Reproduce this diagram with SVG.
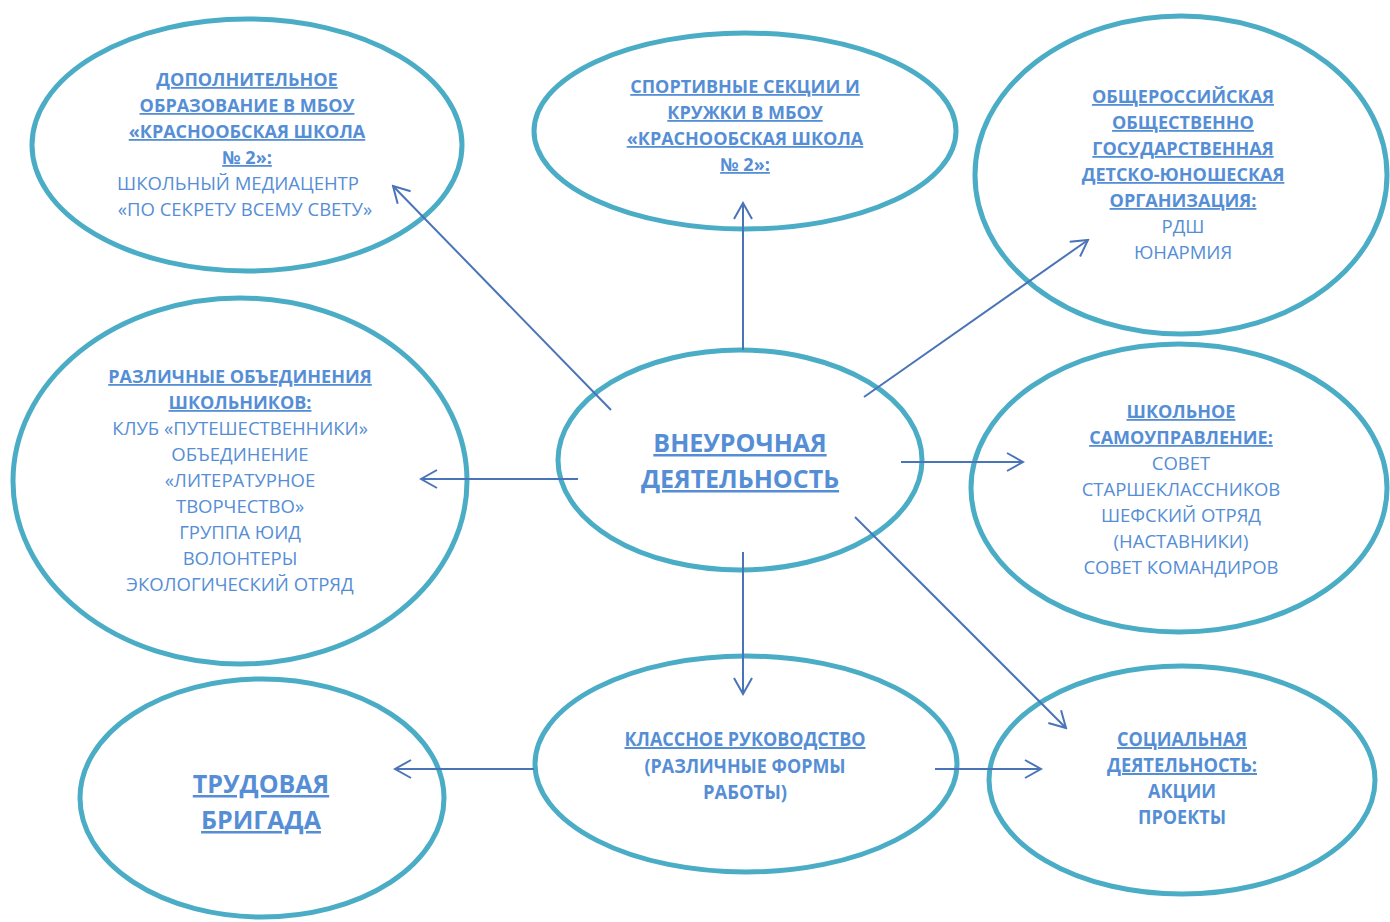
<svg xmlns="http://www.w3.org/2000/svg" width="1390" height="922" viewBox="0 0 1390 922">
<defs>
<style>
.node ellipse{fill:#fff;stroke:#4BACC6;stroke-width:5}
text{font-family:"Open Sans","Noto Sans","DejaVu Sans",sans-serif;fill:#558ED5;text-anchor:middle}
.h{font-weight:bold;font-size:18px;text-decoration:underline}
.p{font-size:18.5px}
.big{font-weight:bold;font-size:25px;text-decoration:underline}
.c{font-weight:bold;font-size:20px}
.cu{text-decoration:underline}
.conn line{stroke:#4A74B8;stroke-width:2;marker-end:url(#arr)}
</style>
<marker id="arr" viewBox="0 0 20 20" refX="18" refY="10" markerWidth="20" markerHeight="20" markerUnits="userSpaceOnUse" orient="auto">
<path d="M2,1 L18,10 L2,19" fill="none" stroke="#4A74B8" stroke-width="2"/>
</marker>
</defs>
<rect width="1390" height="922" fill="#fff"/>

<g id="n-dop" class="node">
<ellipse cx="247" cy="145" rx="215" ry="126"/>
<text class="h" x="247" y="86">ДОПОЛНИТЕЛЬНОЕ</text>
<text class="h" x="247" y="112">ОБРАЗОВАНИЕ В МБОУ</text>
<text class="h" x="247" y="138">«КРАСНООБСКАЯ ШКОЛА</text>
<text class="h" x="247" y="164">№ 2»:</text>
<text class="p" x="238" y="190">ШКОЛЬНЫЙ МЕДИАЦЕНТР</text>
<text class="p" x="245" y="216">«ПО СЕКРЕТУ ВСЕМУ СВЕТУ»</text>
</g>

<g id="n-sport" class="node">
<ellipse cx="745" cy="131" rx="211" ry="98"/>
<text class="h" x="745" y="93">СПОРТИВНЫЕ СЕКЦИИ И</text>
<text class="h" x="745" y="119">КРУЖКИ В МБОУ</text>
<text class="h" x="745" y="145">«КРАСНООБСКАЯ ШКОЛА</text>
<text class="h" x="745" y="171">№ 2»:</text>
</g>

<g id="n-org" class="node">
<ellipse cx="1181" cy="175" rx="206" ry="159"/>
<text class="h" x="1183" y="103">ОБЩЕРОССИЙСКАЯ</text>
<text class="h" x="1183" y="129">ОБЩЕСТВЕННО</text>
<text class="h" x="1183" y="155">ГОСУДАРСТВЕННАЯ</text>
<text class="h" x="1183" y="181">ДЕТСКО-ЮНОШЕСКАЯ</text>
<text class="h" x="1183" y="207">ОРГАНИЗАЦИЯ:</text>
<text class="p" x="1183" y="233">РДШ</text>
<text class="p" x="1183" y="259">ЮНАРМИЯ</text>
</g>

<g id="n-ob" class="node">
<ellipse cx="240" cy="481" rx="227" ry="183"/>
<text class="h" x="240" y="383">РАЗЛИЧНЫЕ ОБЪЕДИНЕНИЯ</text>
<text class="h" x="240" y="409">ШКОЛЬНИКОВ:</text>
<text class="p" x="240" y="435">КЛУБ «ПУТЕШЕСТВЕННИКИ»</text>
<text class="p" x="240" y="461">ОБЪЕДИНЕНИЕ</text>
<text class="p" x="240" y="487">«ЛИТЕРАТУРНОЕ</text>
<text class="p" x="240" y="513">ТВОРЧЕСТВО»</text>
<text class="p" x="240" y="539">ГРУППА ЮИД</text>
<text class="p" x="240" y="565">ВОЛОНТЕРЫ</text>
<text class="p" x="240" y="591">ЭКОЛОГИЧЕСКИЙ ОТРЯД</text>
</g>

<g id="n-center" class="node">
<ellipse cx="740" cy="460" rx="182" ry="110"/>
<text class="big" x="740" y="452">ВНЕУРОЧНАЯ</text>
<text class="big" x="740" y="488">ДЕЯТЕЛЬНОСТЬ</text>
</g>

<g id="n-self" class="node">
<ellipse cx="1179" cy="488" rx="208" ry="144"/>
<text class="h" x="1181" y="418">ШКОЛЬНОЕ</text>
<text class="h" x="1181" y="444">САМОУПРАВЛЕНИЕ:</text>
<text class="p" x="1181" y="470">СОВЕТ</text>
<text class="p" x="1181" y="496">СТАРШЕКЛАССНИКОВ</text>
<text class="p" x="1181" y="522">ШЕФСКИЙ ОТРЯД</text>
<text class="p" x="1181" y="548">(НАСТАВНИКИ)</text>
<text class="p" x="1181" y="574">СОВЕТ КОМАНДИРОВ</text>
</g>

<g id="n-class" class="node">
<ellipse cx="746" cy="764" rx="211" ry="108"/>
<text class="c cu" x="745" y="746" textLength="241" lengthAdjust="spacingAndGlyphs">КЛАССНОЕ РУКОВОДСТВО</text>
<text class="c" x="745" y="773" textLength="201" lengthAdjust="spacingAndGlyphs">(РАЗЛИЧНЫЕ ФОРМЫ</text>
<text class="c" x="745" y="799" textLength="84" lengthAdjust="spacingAndGlyphs">РАБОТЫ)</text>
</g>

<g id="n-soc" class="node">
<ellipse cx="1182" cy="780" rx="193" ry="114"/>
<text class="c cu" x="1182" y="746" textLength="130" lengthAdjust="spacingAndGlyphs">СОЦИАЛЬНАЯ</text>
<text class="c cu" x="1182" y="772" textLength="150" lengthAdjust="spacingAndGlyphs">ДЕЯТЕЛЬНОСТЬ:</text>
<text class="c" x="1182" y="798" textLength="68" lengthAdjust="spacingAndGlyphs">АКЦИИ</text>
<text class="c" x="1182" y="824" textLength="88" lengthAdjust="spacingAndGlyphs">ПРОЕКТЫ</text>
</g>

<g id="n-trud" class="node">
<ellipse cx="262" cy="798" rx="182" ry="119"/>
<text class="big" x="261" y="793">ТРУДОВАЯ</text>
<text class="big" x="261" y="829">БРИГАДА</text>
</g>

<g id="connectors" class="conn">
<line x1="611" y1="410" x2="393" y2="186"/>
<line x1="743" y1="350" x2="743" y2="203"/>
<line x1="864" y1="397" x2="1088" y2="240"/>
<line x1="578" y1="479" x2="421" y2="479"/>
<line x1="901" y1="462" x2="1023" y2="462"/>
<line x1="855" y1="517" x2="1066" y2="728"/>
<line x1="743" y1="552" x2="743" y2="694"/>
<line x1="534" y1="769" x2="395" y2="769"/>
<line x1="935" y1="769" x2="1041" y2="769"/>
</g>
</svg>
